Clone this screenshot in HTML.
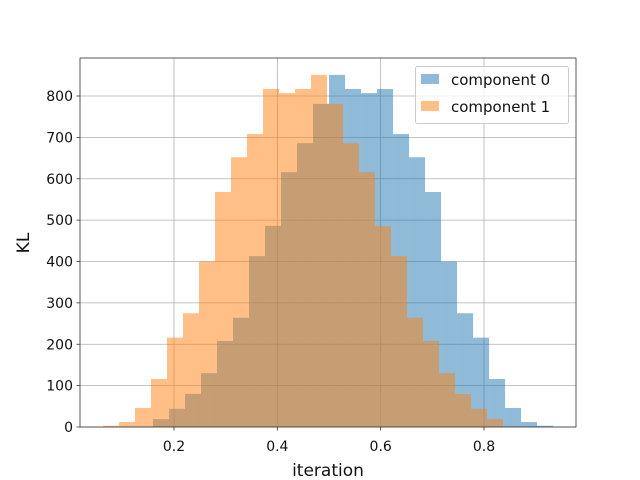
<!DOCTYPE html>
<html><head><meta charset="utf-8"><style>body{margin:0;background:#fff}svg{display:block;font-family:"DejaVu Sans","Liberation Sans",sans-serif}</style></head>
<body>
<svg id="chart" width="640" height="480" xmlns="http://www.w3.org/2000/svg"></svg>
<script>
const binWidth = 0.03097;
const start0 = 0.1594;
const start1 = 0.0626;
const counts0 = [19,44,80,130,208,264,413,486,616,686,781,851,817,807,817,708,652,568,400,275,216,116,46,12,3];
const counts1 = [3,12,46,116,216,275,400,568,652,708,817,807,817,851,781,686,616,486,413,264,208,130,80,44,19];
const xTicks = [0.2,0.4,0.6,0.8];
const yTicks = [0,100,200,300,400,500,600,700,800];

const L=80,R=576,T=58,B=427;
const sx=v=>70.67+v*516.67;
const sy=v=>427-v*0.41375;
const svg=document.getElementById('chart');
const NS='http://www.w3.org/2000/svg';
function mk(tag,attrs,parent){const e=document.createElementNS(NS,tag);for(const k in attrs)e.setAttribute(k,attrs[k]);(parent||svg).appendChild(e);return e;}

const grid=mk('g',{});


xTicks.forEach(t=>{const l=mk('line',{x1:sx(t),x2:sx(t),y1:T,y2:B,stroke:'#b0b0b0','stroke-width':0.8},grid);});
yTicks.forEach(t=>{const l=mk('line',{x1:L,x2:R,y1:sy(t),y2:sy(t),stroke:'#b0b0b0','stroke-width':0.8},grid);});

function series(counts,start,color,name){
  const g=mk('g',{});
  
  
  counts.forEach((c,i)=>{
    const x0=sx(start+i*binWidth),x1=sx(start+(i+1)*binWidth);
    const r=mk('rect',{x:x0,y:sy(c),width:x1-x0,height:sy(0)-sy(c),fill:color,'fill-opacity':0.5},g);
    
    
  });
}
series(counts0,start0,'#1f77b4','component-0');
series(counts1,start1,'#ff7f0e','component-1');

const frame=mk('rect',{x:L,y:T,width:R-L,height:B-T,fill:'none',stroke:'#333','stroke-width':0.8});



xTicks.forEach(t=>{
  const l=mk('line',{x1:sx(t),x2:sx(t),y1:B,y2:B+3.5,stroke:'#333','stroke-width':0.8});
  
  const tx=mk('text',{x:sx(t),y:B+24,'font-size':14,'text-anchor':'middle',fill:'#111'});
  tx.textContent=t.toFixed(1);
  
});
yTicks.forEach(t=>{
  const l=mk('line',{x1:L-3.5,x2:L,y1:sy(t),y2:sy(t),stroke:'#333','stroke-width':0.8});
  
  const tx=mk('text',{x:L-7,y:sy(t)+5,'font-size':14,'text-anchor':'end',fill:'#111'});
  tx.textContent=String(t);
  
});
</script>
<svg style="position:absolute;left:0;top:0" width="640" height="480" xmlns="http://www.w3.org/2000/svg">
<text x="328" y="476" font-size="17" text-anchor="middle" fill="#111">iteration</text>
<text x="29" y="243" font-size="17" text-anchor="middle" fill="#111" transform="rotate(-90 29 243)">KL</text>
<g>
<rect x="415.5" y="66.5" width="153" height="57" rx="2" fill="#fff" fill-opacity="0.8" stroke="#ccc"/>
<rect x="421" y="74" width="18" height="10" fill="#1f77b4" fill-opacity="0.5"/>
<text x="451" y="85" font-size="15" fill="#111">component 0</text>
<rect x="421" y="101" width="18" height="10" fill="#ff7f0e" fill-opacity="0.5"/>
<text x="451" y="112" font-size="15" fill="#111">component 1</text>
</g>
</svg>
</body></html>
